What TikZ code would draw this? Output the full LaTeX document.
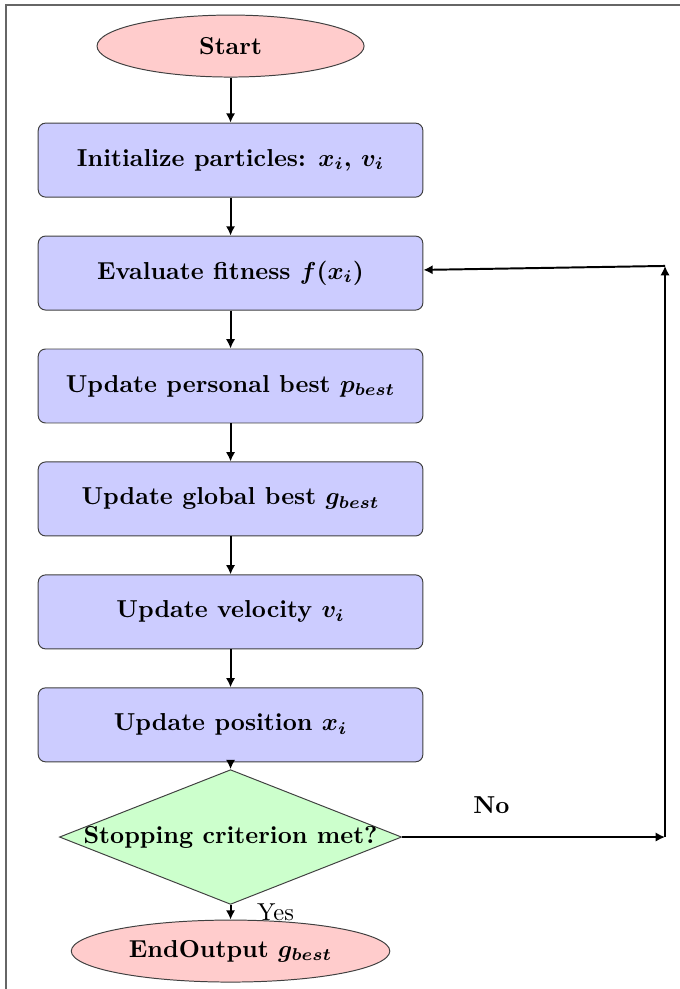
\documentclass[tikz,border=0pt]{standalone}
\usepackage{amsmath,amssymb}
\usepackage{xcolor}
\usetikzlibrary{arrows.meta,positioning,shapes.geometric}
\tikzset{
  blk/.style={draw=black!75, rounded corners=3pt, align=center, fill=blue!20,
    minimum width=157pt, minimum height=30.2pt, font=\bfseries\boldmath},
  term/.style={draw=black!75, ellipse, fill=red!20, inner xsep=4.5pt,
    minimum width=109pt, minimum height=25.3pt, font=\bfseries\boldmath},
  dec/.style={draw=black!75, diamond, aspect=2.54, inner xsep=-1.6pt, inner ysep=0pt,
    fill=green!20, font=\bfseries\boldmath},
  fl/.style={thick, -{Latex[length=3.8pt,width=3.8pt]}},
}
\begin{document}
\begin{tikzpicture}[node distance=15.5pt]
\useasboundingbox (0,0) rectangle (277.55pt,-403.67pt);
\draw[black!60, line width=0.6pt] (2.45pt,-403.67pt) -- (2.45pt,-2pt) -- (277.55pt,-2pt);
\node[term] (start) at (94.1pt,-18.8pt) {Start};
\node[blk, below=18.4pt of start] (init) {Initialize particles: $x_i$, $v_i$};
\node[blk, below=of init] (eval) {Evaluate fitness $f(x_i)$};
\node[blk, below=of eval] (pbest) {Update personal best $p_{best}$};
\node[blk, below=of pbest] (gbest) {Update global best $g_{best}$};
\node[blk, below=of gbest] (vel) {Update velocity $v_i$};
\node[blk, below=of vel] (pos) {Update position $x_i$};
\node[dec, below=2.8pt of pos] (stop) {Stopping criterion met?};
\node[term, below=6pt of stop] (end) {EndOutput $g_{best}$};
\coordinate[right=107.3pt of stop.east] (loopdn);
\coordinate (loopup) at ([yshift=2.9pt]loopdn |- eval);
\draw[fl] (start)--(init);
\draw[fl] (init)--(eval);
\draw[fl] (eval)--(pbest);
\draw[fl] (pbest)--(gbest);
\draw[fl] (gbest)--(vel);
\draw[fl] (vel)--(pos);
\draw[fl] (pos)--(stop);
\draw[fl] (stop)--node[right=7.1pt]{Yes} (end);
\draw[fl] (stop)--node[pos=0.34,above=5.8pt]{\textbf{No}} (loopdn);
\draw[fl] (loopdn)--(loopup);
\draw[fl] (loopup)--(eval);
\end{tikzpicture}
\end{document}
